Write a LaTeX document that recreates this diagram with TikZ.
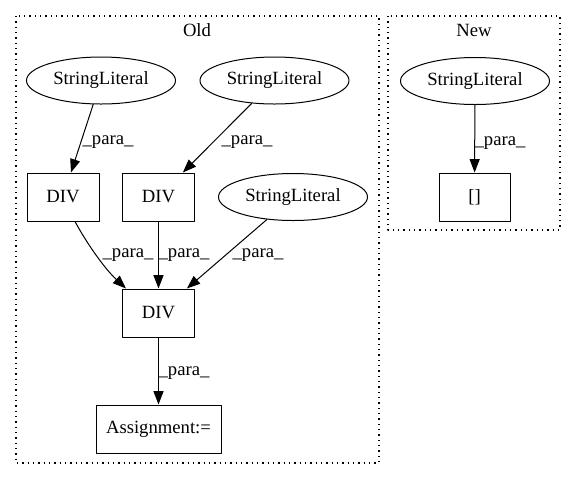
\documentclass[tikz,border=0pt]{standalone}
\usepackage{fontspec}
\setmainfont{Liberation Serif}
\usepackage{tikz}
\usetikzlibrary{arrows.meta}
\usetikzlibrary{shapes.geometric}
\usetikzlibrary{calc}

\begin{document}
\begin{tikzpicture}[line cap=round,line join=round,>={Triangle[length=10pt,width=7.5pt]},x=0.75pt,y=-0.75pt,
  box/.style={draw,line width=0.75pt,rectangle,minimum width=54pt,minimum height=36pt,inner sep=0pt,font=\fontsize{14}{17}\selectfont},
  ellip/.style={draw,line width=0.75pt,ellipse,minimum width=111.75pt,minimum height=35.25pt,inner sep=0pt,font=\fontsize{14}{17}\selectfont},
  lbl/.style={inner sep=0pt,font=\fontsize{14}{17}\selectfont},
  edge/.style={->,line width=0.75pt},
  cluster/.style={line width=1pt,line cap=butt,dash pattern=on 1pt off 3pt}]
\useasboundingbox (0,0) rectangle (576,480);
% clusters
\draw[cluster] (16,16) rectangle (379,463);
\draw[cluster] (388,16) rectangle (560,230);
\node[lbl] (old) at (197,30) {Old};
\node[lbl] (new) at (474,30) {New};
% old
\node[ellip] (s1) at (101,80.5) {StringLiteral};
\node[ellip] (s2) at (274.5,80.5) {StringLiteral};
\node[ellip] (s3) at (293,197) {StringLiteral};
\node[box] (d1) at (63,197) {DIV};
\node[box] (d2) at (158.5,197) {DIV};
\node[box] (d3) at (158.5,313) {DIV};
\node[box,minimum width=93.75pt] (asg) at (158.5,429) {Assignment:=};
% new
\node[ellip] (s4) at (475,81) {StringLiteral};
\node[box,minimum width=53.25pt] (br) at (474.5,197) {[]};
% edges
\draw[edge] (s1) -- (d1);
\draw[edge] (s2) -- (d2);
\draw[edge] ($(d1.south)+(12,0)$) .. controls (86,242) and (104,268) .. ($(d3.north west)+(4,0)$);
\draw[edge] (d2) -- (d3);
\draw[edge] (s3) -- (d3);
\draw[edge] (d3) -- (asg);
\draw[edge] (s4) -- (br);
% labels
\node[lbl] (l1) at (108,142) {\_para\_};
\node[lbl] (l2) at (247,142) {\_para\_};
\node[lbl] (l3) at (128,255) {\_para\_};
\node[lbl] (l4) at (184,255) {\_para\_};
\node[lbl] (l5) at (258,255) {\_para\_};
\node[lbl] (l6) at (184,373) {\_para\_};
\node[lbl] (l7) at (500,143) {\_para\_};
\end{tikzpicture}
\end{document}
